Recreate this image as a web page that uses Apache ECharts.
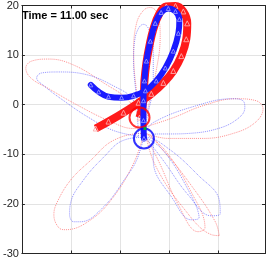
<!DOCTYPE html>
<html><head><meta charset="utf-8">
<script src="https://cdn.jsdelivr.net/npm/echarts/dist/echarts.min.js"></script>
<style>html,body{margin:0;padding:0;background:#fff}#c{width:271px;height:259px}</style>
</head><body><div id="c"></div><script>
// axis ticks
var yTicks = [-30, -20, -10, 0, 10, 20];
var xRange = [-30, 19.4];
var timeLabel = 'Time = 11.00 sec';

// full dotted orbits
var redOrbit = [
 [-5.3,-4.2],[-8.3,0.8],[-13.4,4.4],[-19.5,8.0],[-24.5,9.2],[-28.0,8.8],[-29.2,7.4],[-28.2,5.4],[-24.5,3.2],[-18.5,-0.2],[-12.4,-3.2],[-7.3,-4.8],[-5.3,-4.6],
 [-6.7,2.8],[-7.3,10.8],[-6.7,16.4],[-5.3,19.0],[-3.9,19.6],[-2.5,18.4],[-1.9,13.8],[-2.9,5.8],[-4.5,-1.2],[-5.3,-4.6],
 [0.8,-2.6],[6.8,-0.2],[13.5,1.2],[17.6,0.8],[19.0,-0.8],[17.4,-3.6],[12.9,-5.8],[6.8,-6.8],[-0.3,-6.8],[-5.3,-5.6],
 [-2.3,-11.2],[1.8,-20.2],[5.8,-25.6],[7.2,-24.8],[4.4,-17.6],[-0.9,-9.2],[-4.9,-5.8],
 [-2.9,-12.2],[2.8,-20.8],[8.5,-26.2],[10.1,-26.4],[9.3,-23.6],[4.8,-16.8],[-1.3,-9.2],[-5.3,-5.8],
 [-11.4,-7.2],[-16.0,-11.2],[-20.1,-15.2],[-22.9,-19.8],[-23.5,-22.2],[-22.5,-24.8],[-21.1,-25.2],[-16.0,-23.2],[-11.4,-18.6],[-7.3,-11.8],[-5.3,-6.2]
];
var blueOrbit = [
 [-5.3,-6.2],[-7.3,0.8],[-11.4,3.8],[-17.5,6.2],[-22.5,6.6],[-26.0,6.4],[-27.0,5.4],[-25.5,3.8],[-21.5,0.8],[-16.4,-2.6],[-11.4,-5.2],[-6.3,-6.4],
 [-6.7,0.8],[-7.3,8.8],[-7.1,12.8],[-6.3,15.4],[-5.3,16.2],[-4.3,15.4],[-3.3,11.8],[-3.3,4.8],[-4.7,-3.2],[-5.3,-6.4],
 [-3.3,-3.6],[6.8,0.2],[12.9,1.2],[14.9,0.8],[15.3,-0.6],[13.9,-2.8],[9.9,-4.8],[3.8,-5.8],[-3.3,-6.0],
 [-3.3,-11.2],[0.8,-19.2],[4.4,-23.2],[6.0,-22.8],[3.8,-17.2],[-1.3,-9.2],[-4.9,-6.6],
 [-1.3,-11.2],[3.8,-18.2],[8.5,-22.4],[10.3,-22.0],[10.1,-19.2],[5.8,-14.2],[-0.3,-8.8],[-4.9,-6.6],
 [-9.4,-7.2],[-13.4,-10.6],[-17.5,-15.2],[-20.1,-19.8],[-20.3,-22.2],[-19.5,-23.6],[-18.1,-23.6],[-13.4,-20.6],[-8.8,-14.6],[-6.7,-11.2],[-5.3,-6.8]
];
// recent trails (thick, with markers)
var redTrail = [
 [-15.0,-4.8],[-12.4,-3.4],[-9.35,-1.6],[-6.3,0.4],[-3.7,2.2],[-1.25,4.4],[0.77,6.8],[2.4,9.8],[3.4,13.2],[3.6,16.4],[2.8,18.8],[1.2,19.9],[-0.65,19.8],[-2.05,18.4],[-3.3,15.2],[-4.1,11.8],[-4.7,8.4],[-5.1,4.8],[-5.3,0.8],[-6.1,-2.6]
];
var blueTrail = [
 [-16.0,4.0],[-14.4,2.6],[-12.4,1.6],[-9.75,1.4],[-7.3,1.8],[-4.9,2.8],[-2.7,4.8],[-0.85,7.4],[0.77,10.8],[1.8,14.4],[2.0,17.2],[1.2,18.8],[-0.25,19.4],[-1.7,18.6],[-2.9,16.4],[-3.9,12.8],[-4.7,8.8],[-5.1,4.8],[-5.3,0.8],[-5.3,-3.2],[-5.2,-6.8]
];
var redNow = [-6.1, -2.6];
var blueNow = [-5.2, -6.8];
var centerNow = [-5.0, -4.8];

var axisCol = '#262626';
function xa(pos, grid) {
  return {type:'value', position:pos, min:xRange[0], max:xRange[1], interval:10,
    axisLine:{show:true,onZero:false,lineStyle:{color:axisCol,width:1}},
    axisTick:{show:true,inside:true,length:3,lineStyle:{color:axisCol}},
    axisLabel:{show:false},
    splitLine:{show:grid,lineStyle:{color:'#e3e3e3',width:1}}};
}
function ya(pos, grid) {
  return {type:'value', position:pos, min:yTicks[0], max:yTicks[yTicks.length-1], interval:10,
    axisLine:{show:true,onZero:false,lineStyle:{color:axisCol,width:1}},
    axisTick:{show:true,inside:true,length:3,lineStyle:{color:axisCol}},
    axisLabel:{show:grid,color:axisCol,fontSize:11,fontFamily:'Liberation Sans, Arial, sans-serif',margin:3},
    splitLine:{show:grid,lineStyle:{color:'#e3e3e3',width:1}}};
}
var chart = echarts.init(document.getElementById('c'), null, {renderer:'canvas'});
chart.setOption({
  animation:false,
  grid:{left:18,right:6,top:4,bottom:5,containLabel:false},
  xAxis:[xa('bottom',true), xa('top',false)],
  yAxis:[ya('left',true), ya('right',false)],
  graphic:[{type:'text',left:22,top:10,z:100,style:{text:timeLabel,font:'bold 11px "Liberation Sans", Arial, sans-serif',fill:'#000'}}],
  series:[
    {type:'line',data:redOrbit,smooth:0.4,symbol:'none',lineStyle:{type:'dotted',width:1,color:'rgba(255,70,70,0.6)'},z:2},
    {type:'line',data:blueOrbit,smooth:0.4,symbol:'none',lineStyle:{type:'dotted',width:1,color:'rgba(70,70,255,0.6)'},z:3},
    {type:'line',data:redTrail,smooth:0.4,symbol:'triangle',symbolSize:5,showAllSymbol:true,
      itemStyle:{color:'rgba(255,0,0,0)',borderColor:'rgba(255,170,170,0.9)',borderWidth:1},
      lineStyle:{width:8,color:'#ff1a1a',cap:'butt'},z:4},
    {type:'line',data:blueTrail,smooth:0.4,symbol:'triangle',symbolSize:4,showAllSymbol:true,
      itemStyle:{color:'rgba(0,0,255,0)',borderColor:'rgba(150,150,255,0.9)',borderWidth:1},
      lineStyle:{width:6,color:'#1a1aff',cap:'round'},z:5},
    {type:'scatter',data:[redNow],symbol:'circle',symbolSize:20,itemStyle:{color:'rgba(0,0,0,0)',borderColor:'#ff0000',borderWidth:2},z:6},
    {type:'scatter',data:[blueNow],symbol:'circle',symbolSize:20,itemStyle:{color:'rgba(0,0,0,0)',borderColor:'#0000ff',borderWidth:2},z:6},
    {type:'scatter',data:[centerNow],symbol:'rect',symbolSize:3,itemStyle:{color:'#00cc00'},z:7}
  ]
});
</script></body></html>
